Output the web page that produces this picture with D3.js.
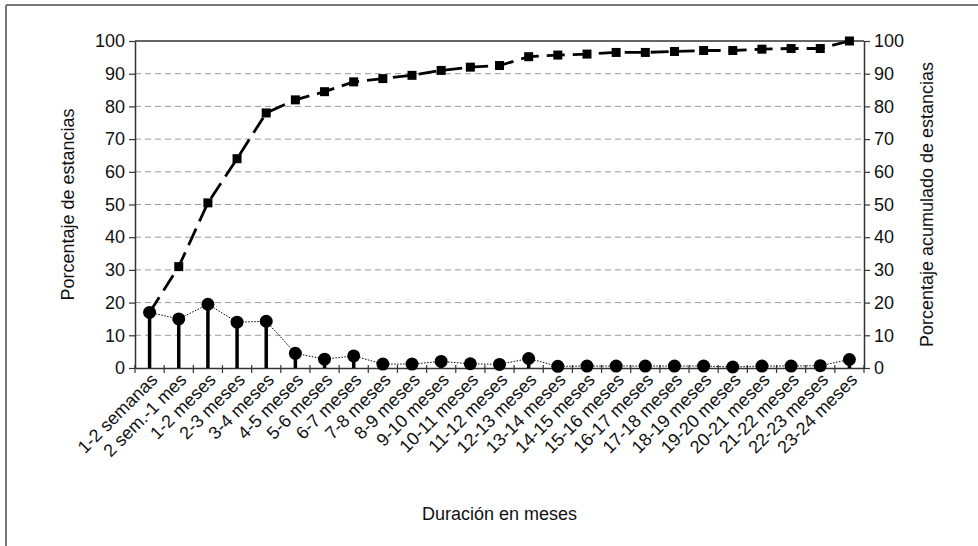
<!DOCTYPE html>
<html>
<head>
<meta charset="utf-8">
<script src="https://cdn.jsdelivr.net/npm/d3@7"></script>
<style>
  body { margin: 0; background: #fff; }
  svg text { font-family: "Liberation Sans Narrow", "Arial Narrow", "Liberation Sans", sans-serif; fill: #111; }
</style>
</head>
<body>
<div id="chart"></div>
<script>
// datos
const categorias = ["1-2 semanas", "2 sem.-1 mes", "1-2 meses", "2-3 meses", "3-4 meses", "4-5 meses",
  "5-6 meses", "6-7 meses", "7-8 meses", "8-9 meses", "9-10 meses", "10-11 meses", "11-12 meses",
  "12-13 meses", "13-14 meses", "14-15 meses", "15-16 meses", "16-17 meses", "17-18 meses",
  "18-19 meses", "19-20 meses", "20-21 meses", "21-22 meses", "22-23 meses", "23-24 meses"];
const porcentaje = [17, 15, 19.5, 14, 14.3, 4.5, 2.7, 3.7, 1.2, 1.2, 2.0, 1.3, 1.1, 2.9,
  0.5, 0.6, 0.6, 0.6, 0.6, 0.6, 0.3, 0.6, 0.6, 0.7, 2.6];
const acumulado = [17, 31, 50.5, 64, 78, 82, 84.5, 87.5, 88.5, 89.5, 91, 92, 92.5, 95.2,
  95.7, 96, 96.5, 96.5, 96.8, 97.1, 97.1, 97.5, 97.7, 97.7, 100];
const ticksY = [0, 10, 20, 30, 40, 50, 60, 70, 80, 90, 100];

const W = 978, H = 546;
const margin = { top: 41, right: 114, bottom: 178, left: 135 };
const width = W - margin.left - margin.right;
const height = H - margin.top - margin.bottom;

const root = d3.select("#chart").append("svg")
  .attr("width", W).attr("height", H);

// marco exterior (solo arriba e izquierda)
root.append("line").attr("x1", 6).attr("y1", 5).attr("x2", W).attr("y2", 5)
  .attr("stroke", "#777").attr("stroke-width", 2);
root.append("line").attr("x1", 6).attr("y1", 5).attr("x2", 6).attr("y2", H)
  .attr("stroke", "#777").attr("stroke-width", 2);

const svg = root.append("g").attr("transform", `translate(${margin.left},${margin.top})`);

const x = d3.scaleBand().domain(categorias).range([0, width]).padding(0);
const y = d3.scaleLinear().domain([0, 100]).range([height, 0]);
const cx = d => x(d) + x.bandwidth() / 2;

// lineas de grilla
svg.selectAll(".grid")
  .data(ticksY.filter(t => t > 0 && t < 100))
  .enter().append("line")
  .attr("x1", 0).attr("x2", width)
  .attr("y1", d => y(d)).attr("y2", d => y(d))
  .attr("stroke", "#999").attr("stroke-width", 1)
  .attr("stroke-dasharray", "6,4");

// ejes izquierdo y derecho
const yLeft = d3.axisLeft(y).tickValues(ticksY).tickSizeInner(6).tickSizeOuter(0).tickPadding(4);
const yRight = d3.axisRight(y).tickValues(ticksY).tickSizeInner(6).tickSizeOuter(0).tickPadding(4);

const gl = svg.append("g").call(yLeft);
const gr = svg.append("g").attr("transform", `translate(${width},0)`).call(yRight);
[gl, gr].forEach(g => {
  g.select(".domain").attr("stroke", "#333").attr("stroke-width", 1.5);
  g.selectAll(".tick line").attr("stroke", "#333").attr("stroke-width", 1.2);
  g.selectAll(".tick text").style("font-size", "18px").attr("fill", "#111");
});

// borde superior
svg.append("line").attr("x1", 0).attr("x2", width).attr("y1", 0).attr("y2", 0)
  .attr("stroke", "#333").attr("stroke-width", 1.5);

// eje x
const xAxis = d3.axisBottom(x).tickSize(0).tickFormat(d => d);
const gx = svg.append("g").attr("transform", `translate(0,${height})`).call(xAxis);
gx.select(".domain").attr("stroke", "#333").attr("stroke-width", 1.5);
gx.selectAll(".tick text")
  .style("font-size", "18px")
  .attr("text-anchor", "end")
  .attr("dy", null)
  .attr("y", 0)
  .attr("transform", "translate(9,13) rotate(-45)");

// marcas del eje x en los limites de cada categoria
const bordes = categorias.map(d => x(d)).concat([width]);
svg.selectAll(".xtick")
  .data(bordes)
  .enter().append("line")
  .attr("x1", d => d).attr("x2", d => d)
  .attr("y1", height - 3).attr("y2", height + 5)
  .attr("stroke", "#333").attr("stroke-width", 1.2);

// linea acumulada (discontinua con cuadrados)
const lineaAcum = d3.line()
  .x((d, i) => cx(categorias[i]))
  .y(d => y(d));
svg.append("path")
  .datum(acumulado)
  .attr("fill", "none")
  .attr("stroke", "#000")
  .attr("stroke-width", 2.8)
  .attr("stroke-dasharray", "18,8")
  .attr("d", lineaAcum);
svg.selectAll(".cuad")
  .data(acumulado)
  .enter().append("rect")
  .attr("x", (d, i) => cx(categorias[i]) - 4.5)
  .attr("y", d => y(d) - 4.5)
  .attr("width", 9).attr("height", 9)
  .attr("fill", "#000");

// linea de porcentaje (punteada con tallos y circulos)
svg.selectAll(".tallo")
  .data(porcentaje)
  .enter().append("line")
  .attr("x1", (d, i) => cx(categorias[i])).attr("x2", (d, i) => cx(categorias[i]))
  .attr("y1", y(0)).attr("y2", d => y(d))
  .attr("stroke", "#000").attr("stroke-width", 3.5);

const lineaPct = d3.line()
  .x((d, i) => cx(categorias[i]))
  .y(d => y(d));
svg.append("path")
  .datum(porcentaje)
  .attr("fill", "none")
  .attr("stroke", "#000")
  .attr("stroke-width", 1)
  .attr("stroke-dasharray", "1.5,1.5")
  .attr("d", lineaPct);

svg.selectAll(".punto")
  .data(porcentaje)
  .enter().append("circle")
  .attr("cx", (d, i) => cx(categorias[i]))
  .attr("cy", d => y(d))
  .attr("r", 6.5)
  .attr("fill", "#000");

// titulos de ejes
svg.append("text")
  .attr("transform", `translate(${68 - margin.left},${height / 2}) rotate(-90)`)
  .attr("text-anchor", "middle")
  .attr("dy", "0.35em")
  .style("font-size", "18px")
  .text("Porcentaje de estancias");

svg.append("text")
  .attr("transform", `translate(${width + 63},${height / 2}) rotate(-90)`)
  .attr("text-anchor", "middle")
  .attr("dy", "0.35em")
  .style("font-size", "18px")
  .text("Porcentaje acumulado de estancias");

svg.append("text")
  .attr("x", width / 2)
  .attr("y", 514 - margin.top)
  .attr("text-anchor", "middle")
  .attr("dy", "0.35em")
  .style("font-size", "18px")
  .text("Duración en meses");
</script>
</body>
</html>
